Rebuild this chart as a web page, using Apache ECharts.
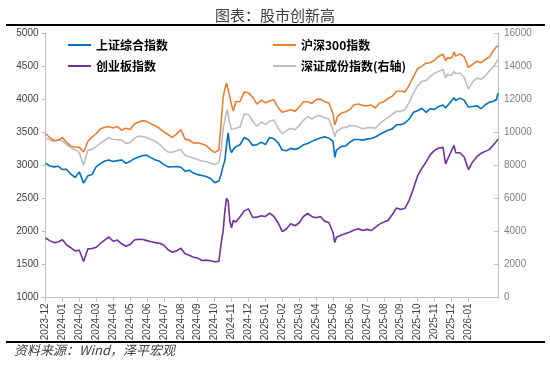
<!DOCTYPE html>
<html>
<head>
<meta charset="utf-8">
<script src="https://cdn.jsdelivr.net/npm/echarts@6/dist/echarts.min.js"></script>
<style>
html,body{margin:0;padding:0;background:#fff;}
#c{width:550px;height:366px;}
</style>
</head>
<body>
<div id="c"></div>
<script>
// month labels on the x axis (one every 20 trading-day units)
const tickLabels = ['2023-12','2024-01','2024-02','2024-03','2024-04','2024-05','2024-06','2024-07','2024-08','2024-09','2024-10','2024-11','2024-12','2025-01','2025-02','2025-03','2025-04','2025-05','2025-06','2025-07','2025-08','2025-09','2025-10','2025-11','2025-12','2026-01'];

// trading-day index of each sampled point
const days = [0,5,10,15,20,25,30,35,40,45,50,55,60,65,70,75,80,85,90,95,100,105,110,115,120,125,130,135,140,145,150,155,160,165,170,175,180,185,190,195,200,205,
208,210,212,214,215,216,218,220,222,
225,230,235,240,245,250,255,260,265,270,275,280,285,290,295,300,305,310,315,320,325,330,335,340,
342,344,
345,350,355,360,365,370,375,380,385,390,395,400,405,410,415,420,425,430,435,440,445,450,455,460,465,470,
473,475,480,483,485,490,495,500,505,510,515,520,525,530,533,535];

// 上证综合指数
const sse = [3030,2990,2975,2985,2935,2937,2865,2815,2900,2730, 2840,2860,2980,3025,3065,3080,3058,3070,3080,3030, 3058,3100,3125,3148,3150,3112,3080,3060,3010,2975, 2978,2980,2970,2910,2925,2882,2858,2845,2830,2800, 2737,2760,
2880,2990,3070,3300,3400,3490,3258,3190,3240,
3280,3310,3420,3386,3300,3310,3350,3311,3420,3400, 3340,3230,3220,3255,3240,3262,3311,3330,3361,3390, 3411,3430,3410,3360,
3120,3230,
3260,3285,3292,3350,3390,3390,3380,3395,3405,3428, 3465,3500,3530,3550,3612,3612,3640,3700,3800,3825, 3862,3800,3855,3845,3890,3910,
3866,3900,3970,4020,
3980,4015,3985,3880,3888,3900,3855,3915,3955,3967,
3990,4090];

// 沪深300指数
const csi300 = [3480,3420,3375,3380,3420,3345,3290,3276,3270,3200, 3360,3425,3480,3550,3575,3585,3565,3585,3530,3560, 3540,3625,3655,3675,3660,3625,3595,3555,3505,3465, 3420,3470,3538,3395,3380,3336,3341,3320,3298,3240, 3190,3230,
3700,4020,4150,4245,4262,4270,4030,3910,3820,
3960,3965,4110,4094,4030,3925,3985,3945,3970,3990, 3870,3800,3820,3841,3815,3880,3960,3960,3935,3992, 4000,3962,3940,3780,
3610,3680,
3735,3790,3810,3845,3915,3925,3905,3895,3910,3866, 3940,3962,4010,4045,4118,4120,4110,4210,4340,4460, 4500,4545,4550,4590,4648,4680,
4580,4624,4620,4715,
4650,4685,4640,4480,4525,4573,4550,4600,4640,4740,
4790,4810];

// 创业板指数
const chinext = [1900,1860,1830,1840,1875,1795,1752,1705,1715,1545, 1735,1740,1760,1820,1868,1915,1850,1868,1812,1775, 1800,1870,1880,1878,1860,1842,1830,1821,1790,1722, 1685,1705,1745,1662,1640,1609,1596,1560,1565,1555, 1542,1545,
1850,2000,2300,2500,2530,2460,2150,2055,2165,
2140,2220,2310,2340,2210,2215,2235,2225,2276,2225, 2130,1995,2040,2115,2085,2130,2225,2270,2224,2205, 2224,2155,2135,1980,
1830,1910,
1921,1946,1968,1990,2020,2040,2012,2030,2012,2060, 2110,2140,2165,2255,2355,2330,2350,2470,2650,2840, 2955,3050,3160,3225,3260,3270,
3020,3010,3220,3300,
3190,3190,3125,2935,3050,3130,3180,3210,3240,3315,
3360,3395];

// 深证成份指数(右轴)
const szComp = [9650,9540,9440,9540,9480,9240,9060,8940,8760,8000, 8900,8960,9120,9340,9500,9680,9560,9540,9520,9320, 9380,9640,9760,9740,9660,9560,9440,9260,9000,8800, 8780,8880,8940,8600,8520,8440,8340,8260,8230,8140, 8040,8160,
9000,10200,10720,11200,11360,11460,10480,10160,10060,
10240,10320,11120,11060,10660,10360,10620,10460,10660,10740, 10240,9900,10100,10240,10150,10400,10720,10940,10800,10960, 11000,10880,10800,10120,
9720,10040,
10150,10250,10290,10400,10390,10310,10210,10260,10280,10240, 10520,10720,10900,11070,11260,11260,11360,11800,12360,12800, 13080,13120,13380,13560,13680,13800,
13280,13480,13440,13680,
13540,13580,13320,12600,13040,13270,13200,13420,13720,14000,
14240,14400];

const names = ['上证综合指数','沪深300指数','创业板指数','深证成份指数(右轴)'];
const colors = ['#0070C0','#ED7D31','#7030A0','#BDBDBD'];

function pairs(arr){ return days.map((d,i)=>[d,arr[i]]); }

const tickVals = tickLabels.map((_,i)=>i*20);
const axisGray = '#BFBFBF';
const numFont = 'Liberation Sans';
const plain = v => String(v);

const chart = echarts.init(document.getElementById('c'), null, {renderer:'canvas'});

function legendAt(name, left, top){
  return {
    data:[name], left:left, top:top, padding:0, orient:'horizontal',
    icon:'rect', itemWidth:23, itemHeight:2, itemGap:0,
    textStyle:{fontSize:12, fontWeight:'bold', color:'#000', fontFamily:'Noto Sans CJK SC'},
    selectedMode:false
  };
}

chart.setOption({
  animation:false,
  backgroundColor:'#fff',
  title:{
    text:'图表：股市创新高', left:'center', top:3,
    textStyle:{fontSize:15, fontWeight:'normal', color:'#404040', fontFamily:'Noto Sans CJK SC'}
  },
  legend:[
    legendAt(names[0], 68, 39),
    legendAt(names[1], 273, 39),
    legendAt(names[2], 68, 60),
    legendAt(names[3], 273, 60)
  ],
  grid:{left:45.5, right:52, top:33, bottom:68.5, containLabel:false},
  xAxis:{
    type:'value', min:0, max:535, interval:20,
    axisLine:{show:true, lineStyle:{color:axisGray, width:1}},
    axisTick:{show:true, length:4, customValues:tickVals, lineStyle:{color:axisGray}},
    splitLine:{show:false},
    axisLabel:{
      customValues:tickVals, rotate:90, fontSize:10, color:'#404040', fontFamily:numFont, margin:6,
      formatter:function(v){ const i=Math.round(v/20); return (Math.abs(v-i*20)<1e-6 && i<tickLabels.length)?tickLabels[i]:''; }
    }
  },
  yAxis:[
    {
      type:'value', min:1000, max:5000, interval:500, position:'left',
      axisLine:{show:true, lineStyle:{color:axisGray}},
      axisTick:{show:true, length:4, lineStyle:{color:axisGray}},
      splitLine:{show:false},
      axisLabel:{fontSize:10, color:'#404040', fontFamily:numFont, margin:7, formatter:plain}
    },
    {
      type:'value', min:0, max:16000, interval:2000, position:'right',
      axisLine:{show:true, lineStyle:{color:axisGray}},
      axisTick:{show:true, inside:true, length:4, lineStyle:{color:axisGray}},
      splitLine:{show:false},
      axisLabel:{fontSize:10, color:'#7F7F7F', fontFamily:numFont, margin:6, formatter:plain}
    }
  ],
  series:[
    {name:names[3], type:'line', yAxisIndex:1, data:pairs(szComp), showSymbol:false, lineStyle:{width:1.6, color:colors[3]}, itemStyle:{color:colors[3]}},
    {name:names[1], type:'line', yAxisIndex:0, data:pairs(csi300), showSymbol:false, lineStyle:{width:1.6, color:colors[1]}, itemStyle:{color:colors[1]}},
    {name:names[0], type:'line', yAxisIndex:0, data:pairs(sse), showSymbol:false, lineStyle:{width:1.6, color:colors[0]}, itemStyle:{color:colors[0]}},
    {name:names[2], type:'line', yAxisIndex:0, data:pairs(chinext), showSymbol:false, lineStyle:{width:1.6, color:colors[2]}, itemStyle:{color:colors[2]}}
  ],
  graphic:[
    {type:'line', shape:{x1:6, y1:25, x2:545, y2:25}, style:{stroke:'#000', lineWidth:2}},
    {type:'line', shape:{x1:6, y1:342, x2:545, y2:342}, style:{stroke:'#000', lineWidth:2}},
    {type:'text', left:14, top:344, style:{text:'资料来源：Wind，泽平宏观', fill:'#404040', font:'italic 13px "Noto Sans CJK SC"'}}
  ]
});
</script>
</body>
</html>
